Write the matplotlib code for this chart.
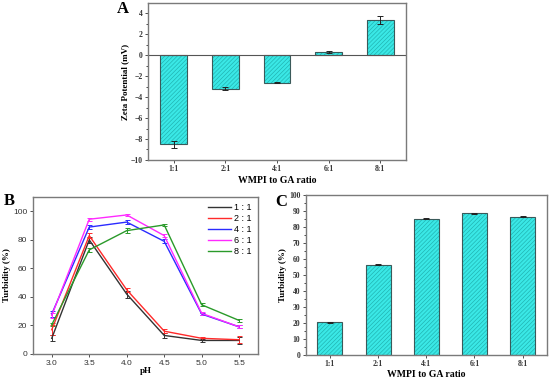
import matplotlib
matplotlib.use("Agg")
import matplotlib.pyplot as plt
from matplotlib.lines import Line2D
import numpy as np

# data
ratios = ["1:1", "2:1", "4:1", "6:1", "8:1"]
zeta = [-8.5, -3.2, -2.6, 0.3, 3.35]
zeta_err = [0.35, 0.15, 0.08, 0.12, 0.4]

ph = [3.0, 3.5, 4.0, 4.5, 5.0, 5.5]
turb_11 = [11, 80, 42, 13, 9.5, 9.5]
turb_21 = [17, 83, 45, 16, 11, 10]
turb_41 = [28, 89, 92.5, 79, 28, 19]
turb_61 = [27, 94.5, 97.5, 83, 28.5, 19]
turb_81 = [20.5, 73, 86.5, 90.5, 34.5, 23.5]
err_11 = [2, 2, 2.5, 2, 1, 2.5]
err_21 = [3.5, 2, 1.5, 1.5, 1, 2.5]
err_41 = [2, 1.5, 1.5, 1.5, 1, 1]
err_61 = [1.5, 1, 1, 1, 1, 1]
err_81 = [1, 1.5, 2, 1, 1, 1]
series_labels = ["1 : 1", "2 : 1", "4 : 1", "6 : 1", "8 : 1"]
series_colors = ["#333333", "#ff2a2a", "#2b2bff", "#ff2aff", "#2a9a2a"]

turb_ratio = [20.3, 56.5, 85.2, 88.7, 86.3]
turb_ratio_err = [0.3, 0.5, 0.3, 0.3, 0.3]

plt.rcParams['hatch.linewidth'] = 0.45
serif = "Liberation Serif"
sans = "Liberation Sans"
fill_c = "#3ae8e6"
hatch_c = "#1fb0ae"
frame_c = "#7a7a7a"


def style_frame(ax):
    for s in ax.spines.values():
        s.set_color(frame_c)
        s.set_linewidth(1.0)
    ax.tick_params(colors="#333333", length=2.5, width=0.6, labelsize=5.5, pad=1.5)
    ax.tick_params(which="minor", length=1.5, width=0.5)


def hatched_bars(ax, vals, errs):
    x = np.arange(len(vals))
    ax.bar(x, vals, width=0.52, color=fill_c, edgecolor=hatch_c,
           hatch="////////", linewidth=0)
    ax.bar(x, vals, width=0.52, fill=False, edgecolor="#3a5a5a", linewidth=0.8)
    ax.errorbar(x, vals, yerr=errs, fmt="none", ecolor="#222222",
                elinewidth=0.7, capsize=2, capthick=0.7)
    ax.set_xticks(x)
    ax.set_xticklabels(ratios, fontfamily=serif, fontweight="bold")
    for lab in ax.get_yticklabels():
        lab.set_fontfamily(serif)
        lab.set_fontweight("bold")
    ax.set_xlim(-0.5, len(vals) - 0.5)


fig = plt.figure(figsize=(5.5, 3.78), dpi=100)

# panel A
axA = fig.add_axes([0.269, 0.577, 0.469, 0.415])
axA.axhline(0, color="#555555", linewidth=0.8)
axA.set_ylim(-10, 5)
axA.set_yticks(np.arange(-10, 5, 2))
axA.set_yticks(np.arange(-10, 5, 1), minor=True)
hatched_bars(axA, zeta, zeta_err)
axA.set_ylabel("Zeta Potential (mV)", fontfamily=serif, fontweight="bold",
               fontsize=6.5, labelpad=1)
axA.set_xlabel("WMPI to GA ratio", fontfamily=serif, fontweight="bold",
               fontsize=7, labelpad=1.5)
style_frame(axA)
fig.text(123 / 550, 1 - 9 / 378, "A", fontfamily=serif, fontweight="bold",
         fontsize=12, ha="center", va="center")

# panel B
axB = fig.add_axes([0.06, 0.0635, 0.409, 0.415])
all_turb = [turb_11, turb_21, turb_41, turb_61, turb_81]
all_err = [err_11, err_21, err_41, err_61, err_81]
for yv, ev, c in zip(all_turb, all_err, series_colors):
    axB.errorbar(ph, yv, yerr=ev, color=c, linewidth=1.0, elinewidth=0.7,
                 capsize=1.8, capthick=0.7)
axB.set_xlim(2.75, 5.75)
axB.set_ylim(0, 110)
axB.set_xticks(ph)
axB.set_yticks([0, 20, 40, 60, 80, 100])
for lab in axB.get_xticklabels() + axB.get_yticklabels():
    lab.set_fontfamily(sans)
axB.set_xlabel("pH", fontfamily=serif, fontweight="bold", fontsize=6.5, labelpad=0.5)
axB.set_ylabel("Turbidity (%)", fontfamily=serif, fontweight="bold",
               fontsize=6.5, labelpad=1.5)
style_frame(axB)
axB.tick_params(labelsize=6)
handles = [Line2D([], [], color=c, linewidth=1.0) for c in series_colors]
axB.legend(handles, series_labels, loc="upper right", frameon=False,
           prop={"family": sans, "size": 6.5},
           handlelength=2.6, labelspacing=0.2, borderaxespad=0.3, handletextpad=0.3)
fig.text(9 / 550, 1 - 201 / 378, "B", fontfamily=serif, fontweight="bold",
         fontsize=12, ha="center", va="center")

# panel C
axC = fig.add_axes([0.556, 0.061, 0.438, 0.423])
axC.set_ylim(0, 100)
axC.set_yticks(np.arange(0, 101, 10))
axC.set_yticks(np.arange(0, 101, 5), minor=True)
hatched_bars(axC, turb_ratio, turb_ratio_err)
axC.set_ylabel("Turbidity (%)", fontfamily=serif, fontweight="bold",
               fontsize=6.5, labelpad=1.5)
axC.set_xlabel("WMPI to GA ratio", fontfamily=serif, fontweight="bold",
               fontsize=7, labelpad=1)
style_frame(axC)
fig.text(281 / 550, 1 - 202 / 378, "C", fontfamily=serif, fontweight="bold",
         fontsize=12, ha="center", va="center")

fig.savefig("out.png", dpi=100)
